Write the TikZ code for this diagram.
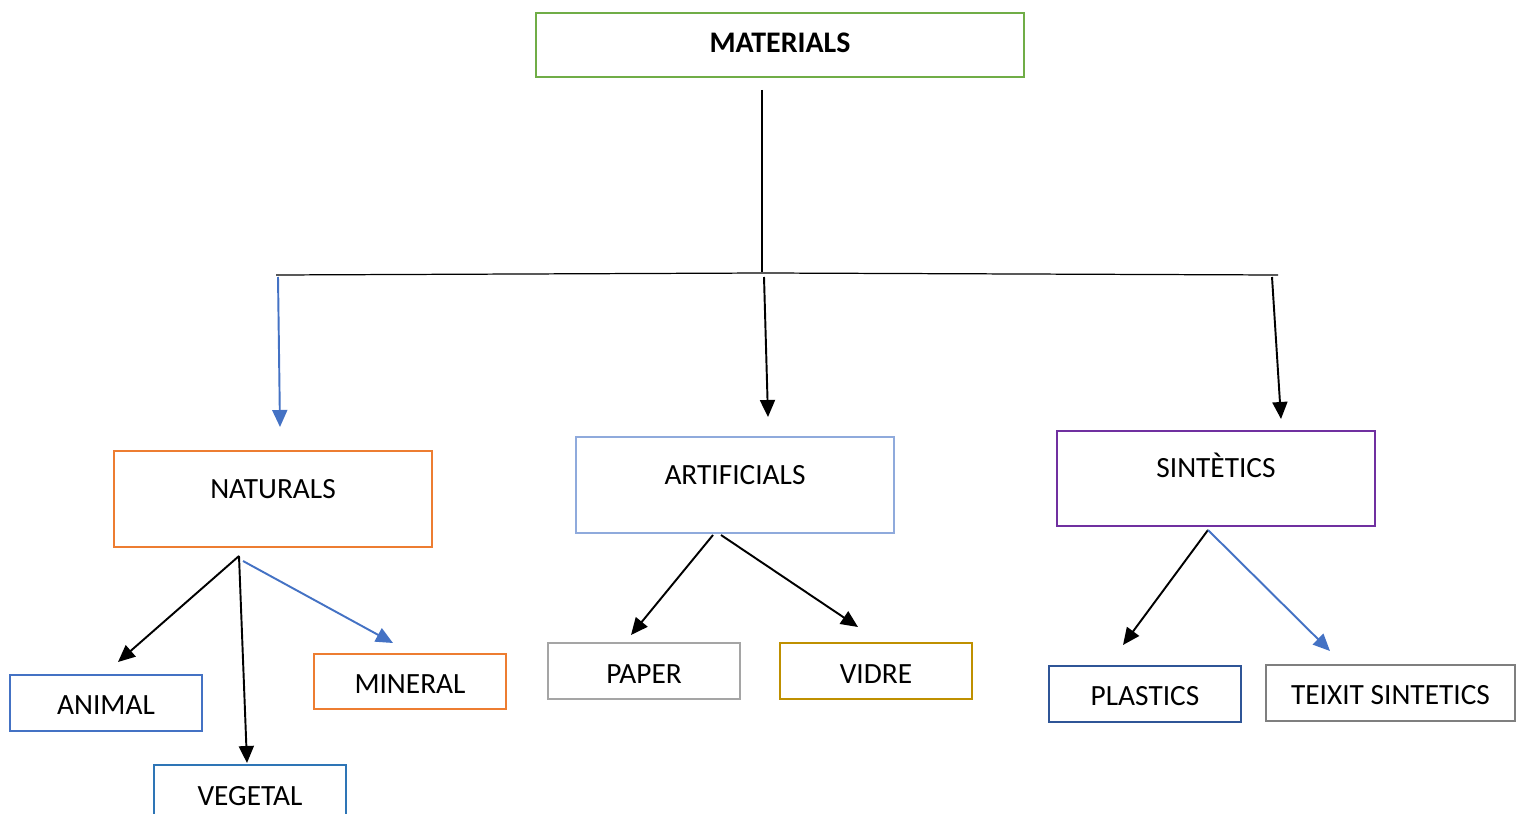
\documentclass[tikz,border=0pt]{standalone}
\usepackage{fontspec}
\setmainfont{Carlito}
\usetikzlibrary{arrows.meta}
\definecolor{cgreen}{HTML}{70AD47}
\definecolor{corange}{HTML}{ED7D31}
\definecolor{clblue}{HTML}{8FAADC}
\definecolor{cpurple}{HTML}{7030A0}
\definecolor{cblue}{HTML}{4472C4}
\definecolor{cvblue}{HTML}{2E75B6}
\definecolor{cgray}{HTML}{A5A5A5}
\definecolor{cgold}{HTML}{BF9000}
\definecolor{cdblue}{HTML}{2F5597}
\definecolor{cdgray}{HTML}{7F7F7F}
\tikzset{
  box/.style={draw=#1, line width=1.4pt, rectangle, inner sep=0pt},
  bigbox/.style={box=#1, minimum width=6.36cm, minimum height=1.92cm},
  smallbox/.style={box=#1, minimum width=3.84cm, minimum height=1.12cm},
  lbl/.style={font=\fontsize{16.7}{19}\selectfont, inner sep=0pt},
  arr/.style={draw=#1, line width=1.1pt, -{Triangle[length=0.34cm,width=0.3cm]}},
  arr/.default=black,
  thin/.style={draw=black, line width=0.7pt}
}
\begin{document}
\begin{tikzpicture}[x=0.02cm,y=-0.02cm]
\useasboundingbox (0,0) rectangle (1520,814);
\clip (0,0) rectangle (1520,814);
% top box
\node[box=cgreen, minimum width=9.76cm, minimum height=1.28cm] (mat) at (780,45) {};
\node[inner sep=0pt, font=\fontsize{17}{20}\selectfont\bfseries] (matt) at (780,43) {MATERIALS};
% tree lines
\coordinate (v1) at (762,90);
\coordinate (v2) at (762,272);
\coordinate (hl) at (276,275);
\coordinate (hm) at (765,273);
\coordinate (hr) at (1278,275);
\draw[thin] (v1) -- (v2);
\draw[thin] (hl) -- (hm) -- (hr);
% second level boxes
\node[bigbox=corange] (nat) at (273,499) {};
\node[lbl] (natt) at (273,489) {NATURALS};
\node[bigbox=clblue] (art) at (735,485) {};
\node[lbl] (artt) at (735,475) {ARTIFICIALS};
\node[bigbox=cpurple, minimum height=1.9cm] (sin) at (1216,478.5) {};
\node[lbl, anchor=base] (sint) at (1216,477) {SINTÈTICS};
% arrows from bar
\coordinate (a1s) at (278,277);
\coordinate (a1e) at (280,427);
\coordinate (a2s) at (764,277);
\coordinate (a2e) at (768,417);
\coordinate (a3s) at (1272,277);
\coordinate (a3e) at (1281,419);
\draw[arr=cblue] (a1s) -- (a1e);
\draw[arr] (a2s) -- (a2e);
\draw[arr] (a3s) -- (a3e);
% third level boxes
\node[smallbox=cblue] (ani) at (106,703) {};
\node[lbl] (anit) at (106,705) {ANIMAL};
\node[smallbox=cvblue] (veg) at (250,793) {};
\node[lbl] (vegt) at (250,796) {VEGETAL};
\node[smallbox=corange, minimum height=1.1cm] (min) at (410,681.5) {};
\node[lbl] (mint) at (410,684) {MINERAL};
\node[smallbox=cgray] (pap) at (644,671) {};
\node[lbl] (papt) at (644,674) {PAPER};
\node[smallbox=cgold] (vid) at (876,671) {};
\node[lbl] (vidt) at (876,674) {VIDRE};
\node[smallbox=cdblue] (pla) at (1145,694) {};
\node[lbl] (plat) at (1145,696) {PLASTICS};
\node[smallbox=cdgray, minimum width=4.98cm] (tei) at (1390.5,693) {};
\node[lbl] (teit) at (1390.5,695) {TEIXIT SINTETICS};
% arrows from naturals
\coordinate (n0) at (239,556);
\coordinate (n1) at (243,561);
\coordinate (nae) at (118,662);
\coordinate (nve) at (247,763);
\coordinate (nme) at (393,643);
\draw[arr] (n0) -- (nae);
\draw[arr] (n0) -- (nve);
\draw[arr=cblue] (n1) -- (nme);
% arrows from artificials
\coordinate (r0) at (713,535);
\coordinate (r1) at (721,535);
\coordinate (rpe) at (631,635);
\coordinate (rve) at (858,627);
\draw[arr] (r0) -- (rpe);
\draw[arr] (r1) -- (rve);
% arrows from sintetics
\coordinate (s0) at (1208,530);
\coordinate (spe) at (1123,645);
\coordinate (ste) at (1330,651);
\draw[arr] (s0) -- (spe);
\draw[arr=cblue] (s0) -- (ste);
\end{tikzpicture}
\end{document}
